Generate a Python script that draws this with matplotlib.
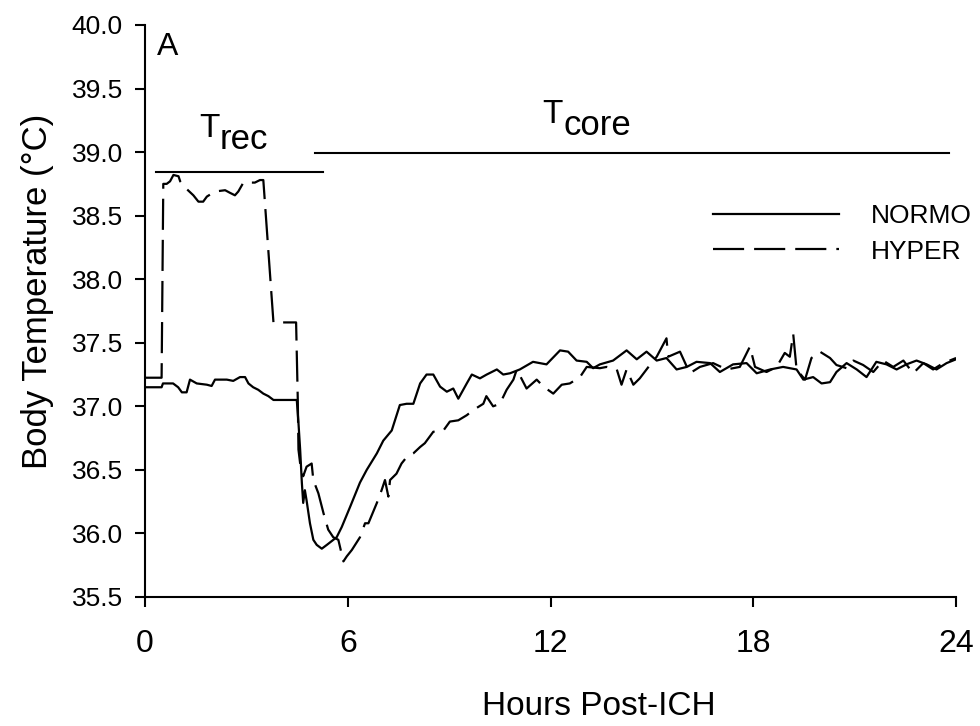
import matplotlib
matplotlib.use("Agg")
import matplotlib.pyplot as plt
from matplotlib import transforms

plt.rcParams['font.family'] = ['Liberation Sans', 'DejaVu Sans']

# NORMO group, hours post-ICH vs body temperature
normo_h = [0, 0.49, 0.53, 0.83, 0.98, 1.09, 1.23, 1.33, 1.53, 1.83, 1.97, 2.07, 2.42, 2.61,
           2.81, 2.96, 3.06, 3.2, 3.35, 3.5, 3.65, 3.8, 4.49, 4.54, 4.59, 4.64, 4.68, 4.73,
           4.78, 4.88, 4.98, 5.08, 5.23, 5.38, 5.67, 5.82, 6.07, 6.36, 6.56, 6.86, 7.05, 7.3,
           7.54, 7.74, 7.94, 8.14, 8.33, 8.53, 8.73, 8.93, 9.12, 9.27, 9.52, 9.67, 9.91,
           10.11, 10.41, 10.6, 10.8, 11.09, 11.48, 11.88, 12.28, 12.52, 12.77, 13.07, 13.26,
           13.46, 13.85, 14.25, 14.55, 14.84, 15.14, 15.43, 15.73, 16.03, 16.32, 16.72,
           17.01, 17.4, 17.8, 18.1, 18.5, 18.88, 19.28, 19.48, 19.77, 20.02, 20.27, 20.46,
           20.76, 21.06, 21.35, 21.64, 21.94, 22.24, 22.53, 22.83, 23.13, 23.42, 23.72, 24.0]
normo_t = [37.15, 37.15, 37.18, 37.18, 37.15, 37.11, 37.11, 37.21, 37.18, 37.17, 37.16, 37.21,
           37.21, 37.20, 37.23, 37.23, 37.18, 37.15, 37.13, 37.10, 37.08, 37.05, 37.05, 36.87,
           36.66, 36.40, 36.24, 36.34, 36.26, 36.08, 35.95, 35.91, 35.88, 35.91, 35.97, 36.05,
           36.21, 36.40, 36.50, 36.63, 36.73, 36.81, 37.01, 37.02, 37.02, 37.18, 37.25, 37.25,
           37.155, 37.115, 37.14, 37.06, 37.18, 37.25, 37.22, 37.25, 37.29, 37.25, 37.26,
           37.29, 37.35, 37.33, 37.44, 37.43, 37.36, 37.35, 37.30, 37.33, 37.36, 37.44, 37.37,
           37.43, 37.36, 37.38, 37.29, 37.31, 37.35, 37.34, 37.27, 37.33, 37.34, 37.26, 37.29,
           37.31, 37.29, 37.21, 37.23, 37.18, 37.19, 37.27, 37.34, 37.29, 37.23, 37.35, 37.33,
           37.29, 37.33, 37.36, 37.33, 37.29, 37.34, 37.37]

# HYPER group
hyper_h = [0, 0.49, 0.54, 0.64, 0.74, 0.84, 0.99, 1.04, 1.23, 1.43, 1.58, 1.72, 1.83, 2.07,
           2.37, 2.51, 2.66, 2.76, 2.91, 3.25, 3.4, 3.5, 3.8, 4.47, 4.52, 4.54, 4.59, 4.68,
           4.78, 4.93, 4.98, 5.13, 5.28, 5.42, 5.57, 5.72, 5.87, 5.97, 6.12, 6.36, 6.51, 6.61,
           6.86, 7.0, 7.1, 7.2, 7.25, 7.44, 7.59, 7.74, 7.94, 8.14, 8.28, 8.53, 8.68, 8.83,
           9.02, 9.27, 9.52, 9.71, 10.01, 10.1, 10.3, 10.5, 10.7, 10.9, 11.0, 11.29, 11.59,
           11.79, 12.08, 12.33, 12.57, 12.87, 13.07, 13.46, 13.66, 13.96, 14.1, 14.25, 14.45,
           14.64, 14.94, 15.14, 15.43, 15.48, 15.83, 16.12, 16.42, 16.81, 17.21, 17.6, 17.9,
           18.05, 18.39, 18.69, 18.93, 19.08, 19.18, 19.28, 19.53, 19.72, 19.97, 20.27, 20.46,
           20.76, 20.96, 21.25, 21.55, 21.84, 22.14, 22.44, 22.73, 23.03, 23.32, 23.62, 24.0]
hyper_t = [37.225, 37.225, 38.75, 38.75, 38.77, 38.82, 38.81, 38.77, 38.71, 38.66, 38.61,
           38.61, 38.65, 38.69, 38.70, 38.68, 38.66, 38.69, 38.76, 38.76, 38.78, 38.78, 37.66,
           37.66, 37.05, 36.66, 36.55, 36.45, 36.525, 36.55, 36.42, 36.315, 36.16, 36.03,
           35.97, 35.95, 35.78, 35.82, 35.87, 35.97, 36.08, 36.08, 36.24, 36.34, 36.42, 36.29,
           36.42, 36.47, 36.55, 36.60, 36.63, 36.68, 36.71, 36.80, 36.80, 36.81, 36.88, 36.89,
           36.93, 36.97, 37.02, 37.08, 37.00, 37.02, 37.13, 37.21, 37.29, 37.14, 37.21, 37.155,
           37.10, 37.17, 37.18, 37.23, 37.31, 37.30, 37.31, 37.29, 37.17, 37.29, 37.17, 37.22,
           37.325, 37.39, 37.535, 37.39, 37.43, 37.26, 37.31, 37.34, 37.29, 37.31, 37.47, 37.31,
           37.27, 37.31, 37.42, 37.39, 37.57, 37.29, 37.21, 37.38, 37.43, 37.38, 37.325, 37.30,
           37.36, 37.325, 37.27, 37.36, 37.31, 37.36, 37.26, 37.34, 37.29, 37.34, 37.38]

# measurement periods (rectal probe, then core telemetry)
period_names = ["rec", "core"]
period_start = [0.33, 5.03]
period_end = [5.27, 23.8]
period_level = [38.84, 38.99]

x_ticks = [0, 6, 12, 18, 24]
y_ticks = [35.5, 36.0, 36.5, 37.0, 37.5, 38.0, 38.5, 39.0, 39.5, 40.0]

fig = plt.figure(figsize=(9.8, 7.26), dpi=100)
ax = fig.add_axes([0.148, 0.1777, 0.8276, 0.7879])

ax.plot(normo_h, normo_t, color='black', lw=1.6, label='NORMO')
ax.plot(hyper_h, hyper_t, color='black', lw=1.6, dashes=(14, 4.5), label='HYPER')

for s, e, lev in zip(period_start, period_end, period_level):
    ax.plot([s, e], [lev, lev], color='black', lw=1.5)

# period labels: big T with lowered suffix
lab_x = [2.22, 12.37]
lab_y = [39.12, 39.23]
for name, lx, ly in zip(period_names, lab_x, lab_y):
    ax.text(lx, ly, "T", fontsize=24, ha='right', va='baseline')
    tr = transforms.offset_copy(ax.transData, fig=fig, x=0, y=-12, units='dots')
    ax.text(lx, ly, name, fontsize=25, ha='left', va='baseline', transform=tr)

ax.text(0.36, 39.76, "A", fontsize=23, ha='left', va='baseline')

ax.set_xlim(0, 24)
ax.set_ylim(35.5, 40.0)
ax.set_xticks(x_ticks)
ax.set_yticks(y_ticks)
ax.set_yticklabels(["%.1f" % v for v in y_ticks])
ax.tick_params(axis='x', labelsize=23, direction='out', length=7, width=1.5, pad=16)
ax.tick_params(axis='y', labelsize=19, direction='out', length=7, width=1.5, pad=9)
for side in ['top', 'right']:
    ax.spines[side].set_visible(False)
for side in ['left', 'bottom']:
    ax.spines[side].set_linewidth(1.5)

ax.set_xlabel("Hours Post-ICH", fontsize=24)
ax.xaxis.set_label_coords(0.559, -0.165)
ax.set_ylabel("Body Temperature (°C)", fontsize=25)
ax.yaxis.set_label_coords(-0.112, 0.535)

ax.legend(frameon=False, fontsize=19, loc='center left', bbox_to_anchor=(0.70, 0.635),
          borderpad=0, borderaxespad=0, handlelength=4.8, handletextpad=1.2,
          labelspacing=0.45)

fig.savefig("out.png", dpi=100)
